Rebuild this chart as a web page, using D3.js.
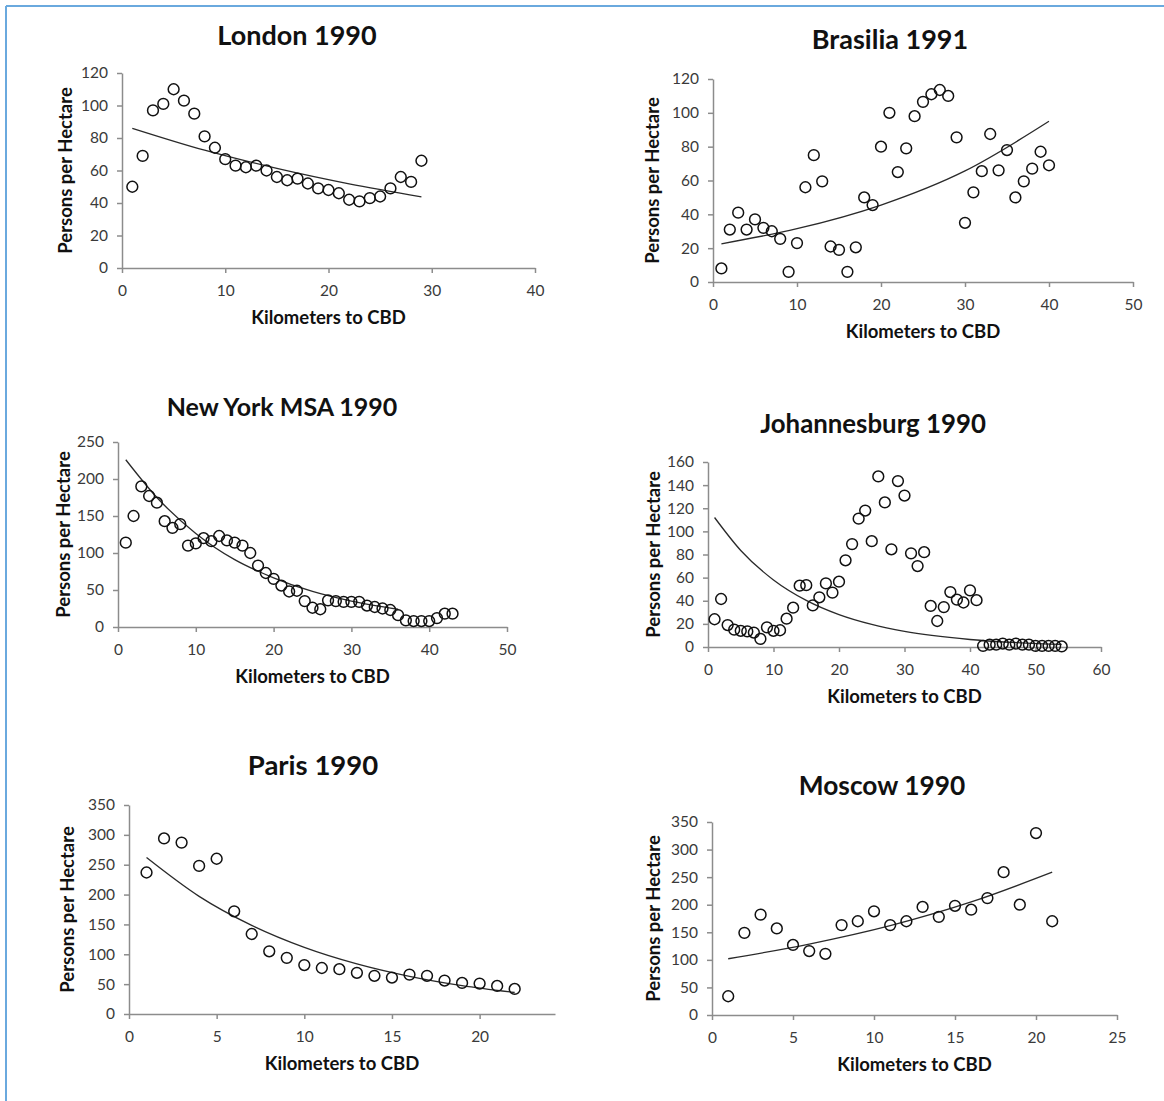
<!DOCTYPE html>
<html>
<head>
<meta charset="utf-8">
<script src="https://cdn.jsdelivr.net/npm/d3@7"></script>
<style>
  body { margin: 0; background: #fff; }
  svg text { font-family: Lato, 'Open Sans', sans-serif; }
</style>
</head>
<body>
<div id="chart"></div>
<script>
////////////////////////////////////////////////////////////////////////
// Data: persons per hectare at km 1, 2, 3 ... from the CBD

let londonDensity = [50, 69, 97, 101, 110, 103, 95, 81, 74, 67, 63, 62, 63, 60, 56,
  54, 55, 52, 49, 48, 46, 42, 41, 43, 44, 49, 56, 53, 66]
let brasiliaDensity = [8, 31, 41, 31, 37, 32, 30, 25.5, 6, 23, 56, 75, 59.5, 21, 19,
  6, 20.5, 50, 45.5, 80, 100, 65, 79, 98, 106.5, 111, 113.5, 110, 85.5, 35,
  53, 65.5, 87.5, 66, 78, 50, 59.5, 67, 77, 69]
let newYorkDensity = [114, 150, 190, 177, 168, 143, 134, 139, 110, 113, 120, 116, 123,
  117, 114, 110, 100, 83, 73, 65, 56, 48, 49, 35, 26, 24, 36, 35, 34, 34,
  34, 29, 27, 25, 23, 16, 9, 8, 8, 8, 12, 18, 18]
let johannesburgDensity = [24, 41.5, 19, 15, 14, 13.5, 12.5, 7, 17, 14, 14.5, 24.5, 34,
  53, 53.5, 36, 43, 55, 47, 56.5, 75, 89, 111, 118, 91.5, 147.5, 125, 84.5,
  143.5, 131, 81, 70, 82, 35.5, 22.5, 34.5, 47.5, 41, 38.5, 49, 40.5, 1,
  2, 2, 3, 2, 3, 2, 2, 1, 1, 1, 1, 0.5]
let parisDensity = [237, 294, 287, 248, 260, 172, 134, 105, 94, 82, 77, 75, 69, 64,
  61, 66, 64, 56, 52, 51, 47, 42]
let moscowDensity = [34, 149, 182, 157, 127, 116, 111, 163, 170, 188, 163, 170, 196,
  178, 198, 191, 212, 259, 200, 330, 170]

// fitted trend lines as [km, density]
let londonTrend = [[1, 86], [8, 72.5], [15, 61.3], [22, 51.8], [29, 43.8]]
let brasiliaTrend = [[1, 22.6], [10, 31.5], [20, 45.5], [30, 65.7], [40, 95]]
let newYorkTrend = [[1, 226], [5, 175], [10, 126.5], [15, 91], [20, 66.5], [25, 48], [30, 35], [36, 24]]
let johannesburgTrend = [[1, 112], [5, 83.5], [10, 58], [15, 40.3], [20, 28], [25, 19.5], [30, 13.5], [40, 6.5], [54, 2.3]]
let parisTrend = [[1, 262], [4, 197], [7, 148.4], [10, 111.6], [13, 83.9], [16, 63.1], [19, 47.5], [22, 36]]
let moscowTrend = [[1, 102], [6, 128.6], [11, 162], [16, 205], [21, 259]]

let titles = ['London 1990', 'Brasilia 1991', 'New York MSA 1990',
  'Johannesburg 1990', 'Paris 1990', 'Moscow 1990']

let xTicks = [
  [0, 10, 20, 30, 40],
  [0, 10, 20, 30, 40, 50],
  [0, 10, 20, 30, 40, 50],
  [0, 10, 20, 30, 40, 50, 60],
  [0, 5, 10, 15, 20],
  [0, 5, 10, 15, 20, 25]
]
let yTicks = [
  [0, 20, 40, 60, 80, 100, 120],
  [0, 20, 40, 60, 80, 100, 120],
  [0, 50, 100, 150, 200, 250],
  [0, 20, 40, 60, 80, 100, 120, 140, 160],
  [0, 50, 100, 150, 200, 250, 300, 350],
  [0, 50, 100, 150, 200, 250, 300, 350]
]
let xMaxes = [40, 50, 50, 60, 24.3, 25]

////////////////////////////////////////////////////////////////////////
// Layout of the six small charts
//  - box: pixel box of the plot area [left, right, top, bottom]
//  - titleAt / titleSize: chart title position and font size
//  - yLabelX: centre of the rotated y axis title

let panels = [
  { density: londonDensity, trend: londonTrend, box: [122, 535, 73, 268], titleAt: [297, 45], titleSize: 27, yLabelX: 65 },
  { density: brasiliaDensity, trend: brasiliaTrend, box: [713, 1133, 79, 282], titleAt: [890, 49], titleSize: 27, yLabelX: 652 },
  { density: newYorkDensity, trend: newYorkTrend, box: [118, 507, 442, 627], titleAt: [282, 416], titleSize: 25, yLabelX: 63 },
  { density: johannesburgDensity, trend: johannesburgTrend, box: [708, 1101, 462, 647], titleAt: [873, 433], titleSize: 25.8, yLabelX: 653 },
  { density: parisDensity, trend: parisTrend, box: [129, 555, 805, 1014], titleAt: [313, 775], titleSize: 27.5, yLabelX: 67 },
  { density: moscowDensity, trend: moscowTrend, box: [712, 1117, 822, 1015], titleAt: [882, 795], titleSize: 26.3, yLabelX: 653 }
]

let width = 1164
let height = 1101
let axisColor = '#8c8c8c'
let tickText = '#3a3a3a'

let svg = d3
  .select('#chart')
  .append('svg')
  .attr('width', width)
  .attr('height', height)

// blue frame on the top and left edge
svg.append('line')
  .attr('x1', 6).attr('x2', width).attr('y1', 6).attr('y2', 6)
  .attr('stroke', '#6aa9de').attr('stroke-width', 2)
svg.append('line')
  .attr('x1', 6).attr('x2', 6).attr('y1', 6).attr('y2', height)
  .attr('stroke', '#6aa9de').attr('stroke-width', 2)

panels.forEach(function (p, i) {
  let [left, right, top, bottom] = p.box
  let ys = yTicks[i]

  let xScale = d3.scaleLinear()
    .domain([0, xMaxes[i]])
    .range([left, right])
  let yScale = d3.scaleLinear()
    .domain([0, ys[ys.length - 1]])
    .range([bottom, top])

  let g = svg.append('g').attr('class', 'panel')

  // axes
  let xAxis = g.append('g')
    .attr('transform', 'translate(0,' + bottom + ')')
    .call(d3.axisBottom(xScale).tickValues(xTicks[i]).tickSize(5).tickPadding(12).tickSizeOuter(0))
  let yAxis = g.append('g')
    .attr('transform', 'translate(' + left + ',0)')
    .call(d3.axisLeft(yScale).tickValues(ys).tickSize(5).tickPadding(9).tickSizeOuter(0))

  ;[xAxis, yAxis].forEach(function (ax) {
    ax.select('.domain').attr('stroke', axisColor).attr('stroke-width', 1.5)
    ax.selectAll('.tick line').attr('stroke', axisColor).attr('stroke-width', 1.5)
    ax.selectAll('.tick text')
      .attr('fill', tickText)
      .style('font-size', '15.5px')
  })

  // trend line
  g.append('path')
    .datum(p.trend)
    .attr('fill', 'none')
    .attr('stroke', '#2a2a2a')
    .attr('stroke-width', 1.3)
    .attr('d', d3.line()
      .x(d => xScale(d[0]))
      .y(d => yScale(d[1]))
      .curve(d3.curveMonotoneX))

  // hollow circle markers
  g.selectAll('.dot')
    .data(p.density)
    .enter()
    .append('circle')
    .attr('class', 'dot')
    .attr('cx', (d, k) => xScale(k + 1))
    .attr('cy', d => yScale(d))
    .attr('r', 5.4)
    .attr('fill', 'none')
    .attr('stroke', '#111')
    .attr('stroke-width', 1.5)

  // title
  g.append('text')
    .attr('x', p.titleAt[0])
    .attr('y', p.titleAt[1])
    .attr('text-anchor', 'middle')
    .attr('font-weight', 'bold')
    .style('font-size', p.titleSize + 'px')
    .attr('fill', '#111')
    .text(titles[i])

  // axis titles
  g.append('text')
    .attr('x', (left + right) / 2)
    .attr('y', bottom + 56)
    .attr('text-anchor', 'middle')
    .attr('font-weight', 'bold')
    .style('font-size', '18.5px')
    .attr('fill', '#111')
    .text('Kilometers to CBD')

  g.append('text')
    .attr('transform', 'translate(' + (p.yLabelX + 7) + ',' + (top + bottom) / 2 + ') rotate(-90)')
    .attr('text-anchor', 'middle')
    .attr('font-weight', 'bold')
    .style('font-size', '18.5px')
    .attr('fill', '#111')
    .text('Persons per Hectare')
})
</script>
</body>
</html>
